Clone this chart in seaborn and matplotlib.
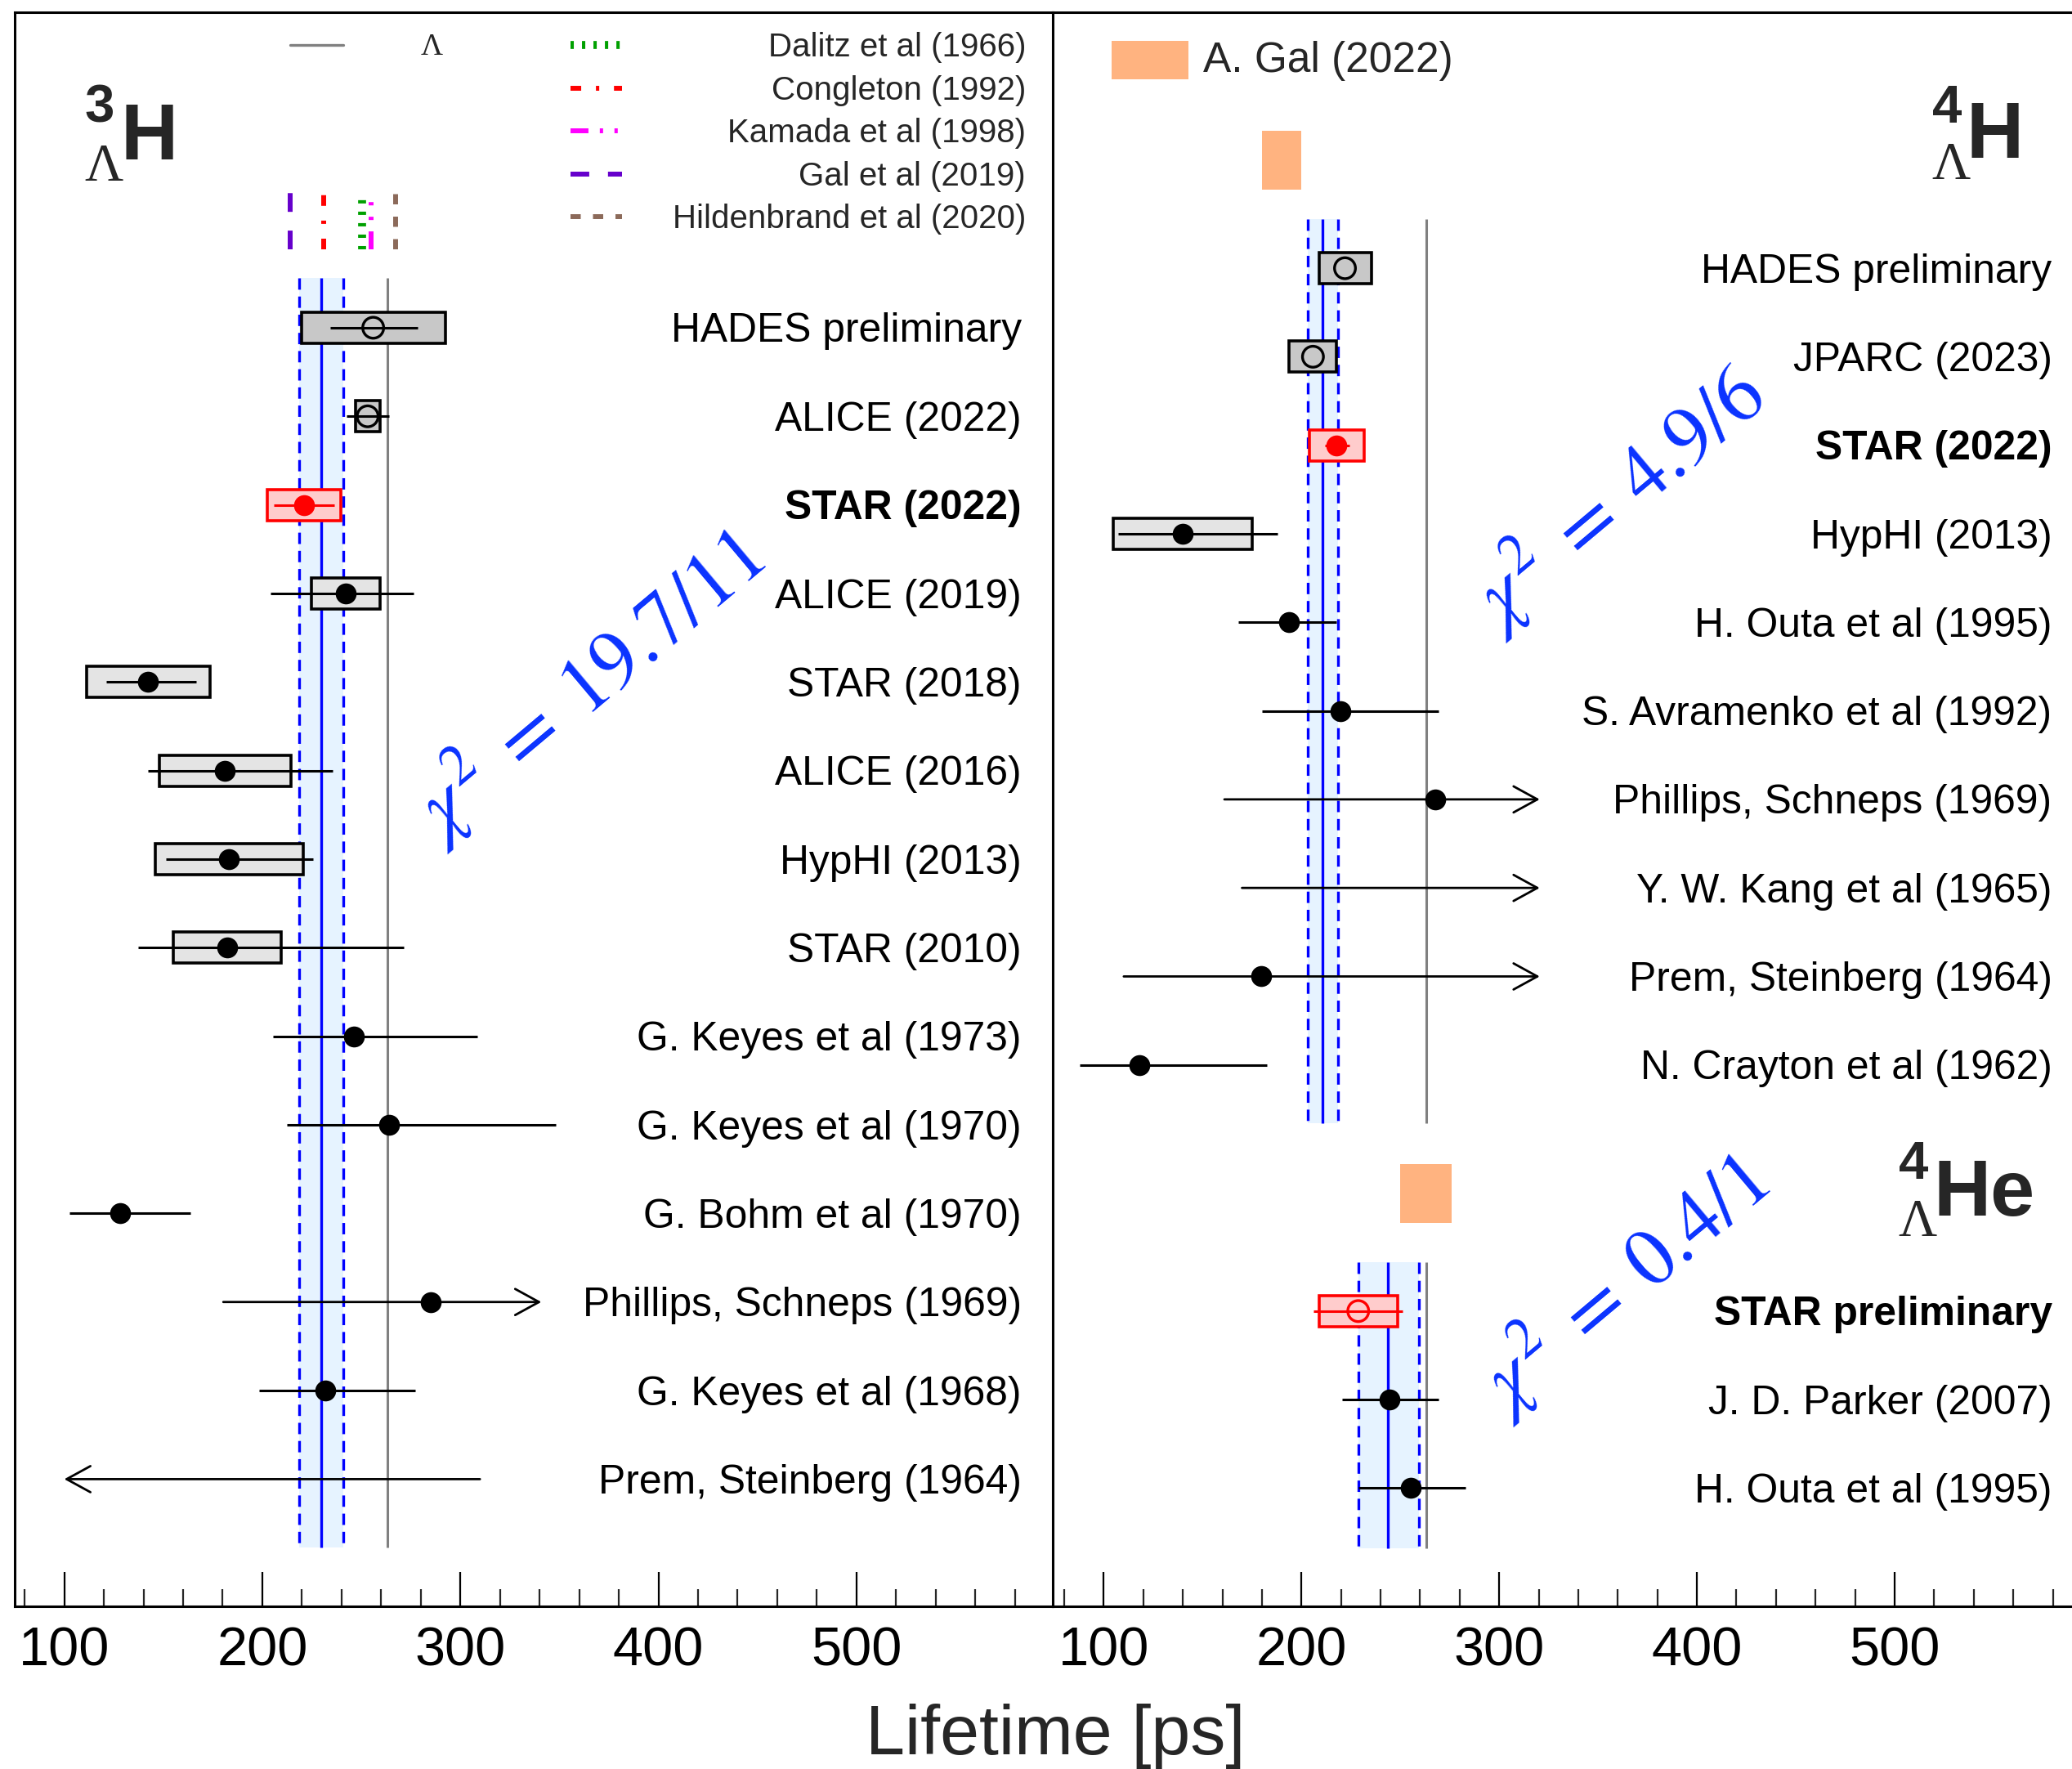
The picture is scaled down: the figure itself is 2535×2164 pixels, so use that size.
import numpy as np
import pandas as pd
import matplotlib
matplotlib.use("Agg")
import matplotlib.pyplot as plt
import matplotlib.transforms as mtransforms
from matplotlib.patches import Rectangle
import seaborn as sns

nan = np.nan

# ---------------------------------------------------------------- data
LAMBDA_TAU = 263.2

# hypertriton (3ΛH)
h3_labels = ["HADES preliminary", "ALICE (2022)", "STAR (2022)", "ALICE (2019)",
             "STAR (2018)", "ALICE (2016)", "HypHI (2013)", "STAR (2010)",
             "G. Keyes et al (1973)", "G. Keyes et al (1970)", "G. Bohm et al (1970)",
             "Phillips, Schneps (1969)", "G. Keyes et al (1968)", "Prem, Steinberg (1964)"]
h3_bold = [False, False, True, False, False, False, False, False,
           False, False, False, False, False, False]
h3_tau = [256.0, 253.2, 221.0, 242.0, 142.4, 181.2, 183.2, 182.3,
          246.2, 264.1, 128.4, 285.1, 232.0, nan]
h3_stat_lo = [234.4, 242.4, 205.9, 204.2, 121.4, 142.4, 151.2, 137.4,
              205.3, 212.3, 102.6, 180.3, 198.3, 309.9]
h3_stat_hi = [278.3, 264.1, 236.3, 276.4, 166.7, 235.5, 225.6, 271.5,
              308.5, 348.2, 163.7, 340.9, 277.3, 100.0]
h3_sys_lo = [219.9, 247.0, 202.4, 224.9, 111.2, 147.9, 146.0, 154.9,
             nan, nan, nan, nan, nan, nan]
h3_sys_hi = [292.4, 259.5, 239.6, 259.5, 173.7, 214.5, 220.6, 209.6,
             nan, nan, nan, nan, nan, nan]
h3_kind = ["open", "open", "star", "closed", "closed", "closed", "closed", "closed",
           "closed", "closed", "closed", "closed", "closed", "none"]
h3_arrow = [False] * 11 + [True, False, True]
h3_avg, h3_avg_lo, h3_avg_hi = 229.7, 218.7, 240.7
h3_chi2 = "19.7/11"

theory_labels = ["Dalitz et al (1966)", "Congleton (1992)", "Kamada et al (1998)",
                 "Gal et al (2019)", "Hildenbrand et al (2020)"]
theory_tau = [250.3, 230.8, 255.1, 214.0, 267.3]

# 4ΛH
h4_labels = ["HADES preliminary", "JPARC (2023)", "STAR (2022)", "HypHI (2013)",
             "H. Outa et al (1995)", "S. Avramenko et al (1992)", "Phillips, Schneps (1969)",
             "Y. W. Kang et al (1965)", "Prem, Steinberg (1964)", "N. Crayton et al (1962)"]
h4_bold = [False, False, True, False, False, False, False, False, False, False]
h4_tau = [222.0, 205.8, 217.8, 139.9, 193.8, 219.7, 267.5, nan, 179.7, 117.9]
h4_stat_lo = [nan, nan, 211.7, 107.4, 168.1, 179.9, 161.0, 169.9, 110.1, 88.0]
h4_stat_hi = [nan, nan, 224.1, 187.8, 217.6, 269.5, 320.5, 320.5, 320.5, 182.7]
h4_sys_lo = [208.9, 193.7, 204.1, 104.8, nan, nan, nan, nan, nan, nan]
h4_sys_hi = [235.3, 217.8, 231.5, 175.1, nan, nan, nan, nan, nan, nan]
h4_kind = ["open", "open", "star", "closed", "closed", "closed", "closed", "none",
           "closed", "closed"]
h4_arrow = [False] * 6 + [True, True, True, False]
h4_avg, h4_avg_lo, h4_avg_hi = 210.7, 203.1, 218.4
h4_chi2 = "4.9/6"
h4_gal_lo, h4_gal_hi = 180.1, 199.9

# 4ΛHe
he4_labels = ["STAR preliminary", "J. D. Parker (2007)", "H. Outa et al (1995)"]
he4_bold = [True, False, False]
he4_tau = [228.7, 244.5, 255.4]
he4_stat_lo = [206.0, 220.7, 228.7]
he4_stat_hi = [251.2, 269.3, 282.8]
he4_sys_lo = [209.0, nan, nan]
he4_sys_hi = [248.7, nan, nan]
he4_kind = ["staropen", "closed", "closed"]
he4_arrow = [False, False, False]
he4_avg, he4_avg_lo, he4_avg_hi = 243.8, 228.7, 259.3
he4_chi2 = "0.4/1"
he4_gal_lo, he4_gal_hi = 249.7, 275.9

# ---------------------------------------------------------------- style
BLUE = "#0000ff"
CHI_BLUE = "#0a32ff"
BAND = "#e6f3ff"
GRAY = "#808080"
ORANGE = "#ffb380"
theory_colors = ["#00a000", "#ff0000", "#ff00ff", "#6600cc", "#8c6a5a"]
theory_lw = [7.0, 4.3, 4.3, 4.3, 4.3]
theory_dash = [(0, (2.9, 7.2)), (0, (9.4, 13, 2.9, 13)),
               (0, (15.8, 10, 2.9, 10, 2.9, 10)), (0, (16.5, 16.5)), (0, (9, 10.8))]

sns.set_theme(style="white")
plt.rcParams["font.family"] = ["Liberation Sans", "DejaVu Sans"]
plt.rcParams["lines.scale_dashes"] = False
plt.rcParams["mathtext.fontset"] = "stix"

FW, FH = 2535, 2164
fig = plt.figure(figsize=(FW / 100, FH / 100), dpi=100)
fig.patch.set_facecolor("white")
axL = fig.add_axes([18 / FW, 1 - 1965 / FH, (1288 - 18) / FW, 1950 / FH])
axR = fig.add_axes([1288 / FW, 1 - 1965 / FH, (FW - 1288) / FW, 1950 / FH])


def make_df(labels, bold, tau, slo, shi, ylo, yhi, kind, arrow, rows):
    return pd.DataFrame(dict(label=labels, bold=bold, tau=tau, stat_lo=slo, stat_hi=shi,
                             sys_lo=ylo, sys_hi=yhi, kind=kind, arrow=arrow, row=rows))


dfL = make_df(h3_labels, h3_bold, h3_tau, h3_stat_lo, h3_stat_hi, h3_sys_lo, h3_sys_hi,
              h3_kind, h3_arrow, np.arange(len(h3_labels), dtype=float))
dfH4 = make_df(h4_labels, h4_bold, h4_tau, h4_stat_lo, h4_stat_hi, h4_sys_lo, h4_sys_hi,
               h4_kind, h4_arrow, np.arange(len(h4_labels), dtype=float))
dfHe = make_df(he4_labels, he4_bold, he4_tau, he4_stat_lo, he4_stat_hi, he4_sys_lo,
               he4_sys_hi, he4_kind, he4_arrow, 11.78 + np.arange(len(he4_labels)))


def draw_band(ax, avg, lo, hi, y0, y1):
    ax.fill_betweenx([y0, y1], lo, hi, color=BAND, lw=0, zorder=1)
    ax.vlines([lo, hi], y0, y1, colors=BLUE, linestyles=[(0, (10, 6))], lw=2.4, zorder=2)
    ax.vlines([avg], y0, y1, colors=BLUE, lw=2.4, zorder=2)
    ax.vlines([LAMBDA_TAU], y0, y1, colors=GRAY, lw=2.2, zorder=2)


def draw_points(ax, df, label_x):
    # systematic boxes
    m = df["sys_lo"].notna()
    sub = df[m]
    fills, edges = [], []
    for k in sub["kind"]:
        if k.startswith("star"):
            fills.append("#ffcccc"); edges.append("#ff0000")
        elif k == "open":
            fills.append("#c8c8c8"); edges.append("black")
        else:
            fills.append("#e4e4e4"); edges.append("black")
    ax.barh(sub["row"], sub["sys_hi"] - sub["sys_lo"], left=sub["sys_lo"], height=0.35,
            color=fills, edgecolor=edges, linewidth=2.6, zorder=3)
    # statistical bars / arrows
    for _, r in df.iterrows():
        if np.isnan(r["stat_lo"]):
            continue
        col = "#ff0000" if r["kind"].startswith("star") else "black"
        if r["arrow"]:
            ax.annotate("", xy=(r["stat_hi"], r["row"]), xytext=(r["stat_lo"], r["row"]),
                        arrowprops=dict(arrowstyle="->,head_length=2.1,head_width=1.15",
                                        lw=2.0, color=col, shrinkA=0, shrinkB=0,
                                        mutation_scale=10), zorder=4)
        else:
            ax.hlines(r["row"], r["stat_lo"], r["stat_hi"], colors=col, lw=2.2, zorder=4)
    # markers
    closed = df[df["kind"] == "closed"]
    sns.scatterplot(data=closed, x="tau", y="row", ax=ax, s=340, color="black",
                    linewidth=0, zorder=5, legend=False)
    star = df[df["kind"] == "star"]
    if len(star):
        sns.scatterplot(data=star, x="tau", y="row", ax=ax, s=340, color="#ff0000",
                        linewidth=0, zorder=5, legend=False)
    op = df[df["kind"] == "open"]
    if len(op):
        ax.scatter(op["tau"], op["row"], s=340, facecolors="none", edgecolors="black",
                   linewidths=2.4, zorder=5)
    sop = df[df["kind"] == "staropen"]
    if len(sop):
        ax.scatter(sop["tau"], sop["row"], s=340, facecolors="none", edgecolors="#ff0000",
                   linewidths=2.4, zorder=5)
    # labels
    tr = mtransforms.blended_transform_factory(ax.transAxes, ax.transData)
    for _, r in df.iterrows():
        ax.text(label_x, r["row"] + 0.162, r["label"], transform=tr, ha="right",
                va="baseline", fontsize=35.8, color="black",
                fontweight="bold" if r["bold"] else "normal", zorder=6)


def style_axis(ax, xlim, ylim):
    ax.set_xlim(*xlim)
    ax.set_ylim(*ylim)
    ax.set_xlabel("")
    ax.set_ylabel("")
    ax.set_yticks([])
    ax.set_xticks([100, 200, 300, 400, 500])
    ax.set_xticks(np.arange(80, xlim[1], 20), minor=True)
    ax.tick_params(axis="x", which="major", direction="in", length=30, width=1.6,
                   labelsize=48, pad=18, bottom=True, top=False, colors="black")
    ax.tick_params(axis="x", which="minor", direction="in", length=15, width=1.6,
                   bottom=True, top=False)
    ax.set_facecolor("white")
    for s in ax.spines.values():
        s.set_linewidth(2.2)
        s.set_color("black")
    ax.grid(False)


def chi_text(ax, x, y, val):
    ax.text(x, y, r"$\chi^{\mathit{2}}\;=\;\mathit{" + val + "}$", transform=ax.transAxes,
            fontsize=71, color=CHI_BLUE, rotation=40, rotation_mode="anchor",
            ha="center", va="center")


# ---------------------------------------------------------------- left panel
draw_band(axL, h3_avg, h3_avg_lo, h3_avg_hi, -0.562, 13.77)
draw_points(axL, dfL, 0.970)
for tau, c, lw, ls in zip(theory_tau, theory_colors, theory_lw, theory_dash):
    axL.plot([tau, tau], [-0.885, -1.531], color=c, lw=lw, linestyle=ls, zorder=3,
             solid_capstyle="butt")
style_axis(axL, (75.0, 599.1), (14.436, -3.562))


def ay(py):
    return 1 - (py - 15) / 1950


def axl(px):
    return (px - 18) / 1270


def axr(px):
    return (px - 1288) / 1247


# theory legend (drawn in axes coordinates)
leg_rows = [55, 107.5, 160, 212.5, 265]
for lab, c, lw, ls, py in zip(theory_labels, theory_colors, theory_lw, theory_dash, leg_rows):
    axL.plot([axl(698), axl(761)], [ay(py), ay(py)], transform=axL.transAxes, color=c,
             lw=lw, linestyle=ls, solid_capstyle="butt")
    axL.text(axl(1255), ay(py + 14.4), lab, transform=axL.transAxes, ha="right",
             va="baseline", fontsize=29)
axL.plot([axl(355), axl(420)], [ay(55), ay(55)], transform=axL.transAxes, color=GRAY, lw=2.4)
axL.text(axl(528), ay(66.7), "Λ", transform=axL.transAxes, ha="center", va="baseline",
         fontsize=27, family="Liberation Serif")

# nucleus symbol 3ΛH
axL.text(axl(148), ay(195), "H", transform=axL.transAxes, fontsize=70, fontweight="bold",
         ha="left", va="baseline")
axL.text(axl(121.5), ay(150), "3", transform=axL.transAxes, fontsize=47, fontweight="bold",
         ha="center", va="baseline")
axL.text(axl(126.5), ay(221), "Λ", transform=axL.transAxes, fontsize=47,
         family="Liberation Serif", ha="center", va="baseline")

chi_text(axL, 0.551, 0.578, h3_chi2)

# ---------------------------------------------------------------- right panel
draw_band(axR, h4_avg, h4_avg_lo, h4_avg_hi, -0.555, 9.655)
draw_band(axR, he4_avg, he4_avg_lo, he4_avg_hi, 11.23, 14.46)
draw_points(axR, dfH4, 0.9804)
draw_points(axR, dfHe, 0.9804)
gal_lo = [h4_gal_lo, he4_gal_lo]
gal_hi = [h4_gal_hi, he4_gal_hi]
gal_rows = [-1.22, 10.45]
axR.barh(gal_rows, np.subtract(gal_hi, gal_lo), left=gal_lo, height=0.66, color=ORANGE,
         linewidth=0, zorder=3)
style_axis(axR, (74.2, 589.7), (15.115, -2.891))
axR.spines["right"].set_visible(False)

# A. Gal legend
axR.add_patch(Rectangle((axr(1360), ay(96.7)), axr(1453.7) - axr(1360), ay(50) - ay(96.7),
                        transform=axR.transAxes, color=ORANGE, lw=0))
axR.text(axr(1472), ay(88.3), "A. Gal (2022)", transform=axR.transAxes, fontsize=37,
         ha="left", va="baseline")

# nucleus symbols
axR.text(axr(2406), ay(193), "H", transform=axR.transAxes, fontsize=70, fontweight="bold",
         ha="left", va="baseline")
axR.text(axr(2382), ay(150), "4", transform=axR.transAxes, fontsize=47, fontweight="bold",
         ha="center", va="baseline")
axR.text(axr(2387), ay(219), "Λ", transform=axR.transAxes, fontsize=47,
         family="Liberation Serif", ha="center", va="baseline")
axR.text(axr(2366), ay(1486.7), "He", transform=axR.transAxes, fontsize=70,
         fontweight="bold", ha="left", va="baseline")
axR.text(axr(2341), ay(1442), "4", transform=axR.transAxes, fontsize=47, fontweight="bold",
         ha="center", va="baseline")
axR.text(axr(2346), ay(1511.5), "Λ", transform=axR.transAxes, fontsize=47,
         family="Liberation Serif", ha="center", va="baseline")

chi_text(axR, 0.553, 0.695, h4_chi2)
chi_text(axR, 0.558, 0.202, he4_chi2)

fig.text(1291 / FW, 1 - 2146 / FH, "Lifetime [ps]", ha="center", va="baseline", fontsize=62)

fig.savefig("out.png", dpi=100, facecolor="white")
